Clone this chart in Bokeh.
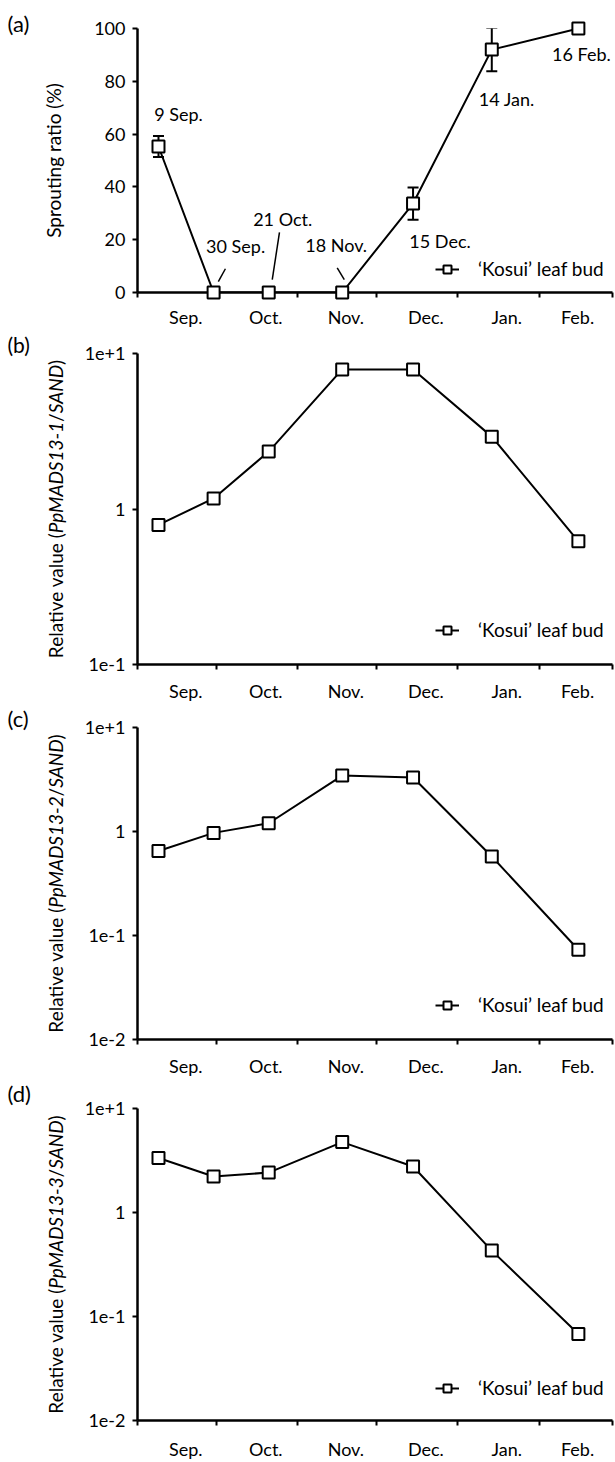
import math
import subprocess
import datetime as dt
from bokeh.plotting import figure
from bokeh.models import (Range1d, FixedTicker, ColumnDataSource, Whisker,
                          TeeHead, Legend, LegendItem)
from bokeh.layouts import column
from bokeh.embed import file_html
from bokeh.resources import INLINE
from bokeh.core.properties import value

# ---------------- data ----------------
dates = ["2009-09-09", "2009-09-30", "2009-10-21", "2009-11-18",
         "2009-12-15", "2010-01-14", "2010-02-16"]
date_labels = ["9 Sep.", "30 Sep.", "21 Oct.", "18 Nov.", "15 Dec.", "14 Jan.", "16 Feb."]
sprouting = [55.3, 0, 0, 0, 33.7, 92.0, 100.0]
sprouting_err = [4.0, 0, 0, 0, 6.1, 8.2, 0]
mads13_1 = [0.79, 1.17, 2.34, 7.9, 7.9, 2.92, 0.62]
mads13_2 = [0.65, 0.97, 1.20, 3.45, 3.30, 0.575, 0.073]
mads13_3 = [3.34, 2.22, 2.42, 4.75, 2.77, 0.43, 0.068]
months = ["Sep.", "Oct.", "Nov.", "Dec.", "Jan.", "Feb."]
genes = ["PpMADS13-1", "PpMADS13-2", "PpMADS13-3"]
reference_gene = "SAND"
legend_label = "\u2018Kosui\u2019 leaf bud"
ticks_a = [0, 20, 40, 60, 80, 100]
log_ticks = {10: "1e+1", 1: "1", 0.1: "1e-1", 0.01: "1e-2"}

# ---------------- styling / layout ----------------
FONT = "Lato"
FS = "18px"
YLAB_SIZE = 19
W = 615
LEFT = 137
RIGHT = 3
YLAB_X = -82          # centre of the y-axis title, px from the frame's left edge
month_shift = [3.4, 3.4, 3.4, 3.4, 3.2, 0.7]   # month label shift from month middle (days)
label_dx = [20, 22, 14, -6, 27, 15, 3]          # date-label offsets, px
label_dy = [-33, -47, -74, -48, 37, 49, 25]
# leader lines (point index, d_days0, y0, d_days1, y1) for 30 Sep, 21 Oct, 18 Nov
leaders = [(1, 1.8, 4.1, 4.5, 9.0), (2, 1.35, 4.9, 4.1, 22.8), (3, 0.8, 4.9, -1.9, 9.3)]

start = dt.date(2009, 9, 1)
xs = [(dt.date.fromisoformat(d) - start).days for d in dates]
month_starts = []
for i in range(7):
    yy = 2009 + (8 + i) // 12
    mm = (8 + i) % 12 + 1
    month_starts.append(dt.date(yy, mm, 1))
bounds = [(ms - start).days for ms in month_starts]
label_pos = [round((a + b) / 2 + s, 1) for a, b, s in zip(bounds[:-1], bounds[1:], month_shift)]


# ---------- text measuring (for mixed upright/italic axis titles) ----------
_font_cache = {}


def _font_file(pattern):
    try:
        out = subprocess.run(["fc-match", "-f", "%{file}", pattern],
                             capture_output=True, text=True, timeout=10).stdout.strip()
        if out and "lato" in out.lower():
            return out
    except Exception:
        pass
    return None


def measure(text, italic, size):
    key = (italic, size)
    try:
        from PIL import ImageFont
        if key not in _font_cache:
            path = _font_file("Lato:style=Italic" if italic else "Lato:style=Regular")
            _font_cache[key] = ImageFont.truetype(path, size) if path else None
        f = _font_cache[key]
        if f is not None:
            return f.getlength(text)
    except Exception:
        pass
    return len(text) * size * 0.53


def add_ylabel(p, pieces, yrange, log):
    widths = [measure(t, it, YLAB_SIZE) for t, it in pieces]
    total = sum(widths)
    ymid = math.sqrt(yrange[0] * yrange[1]) if log else (yrange[0] + yrange[1]) / 2
    offs, cum = [], 0.0
    for w in widths:
        offs.append(total / 2 - cum)
        cum += w
    n = len(pieces)
    src = ColumnDataSource(dict(x=[bounds[0]] * n, y=[ymid] * n,
                                t=[t for t, _ in pieces], dy=offs,
                                st=["italic" if it else "normal" for _, it in pieces]))
    r = p.text("x", "y", text="t", source=src, x_offset=YLAB_X, y_offset="dy",
               angle=math.pi / 2, text_font=value(FONT),
               text_font_size=f"{YLAB_SIZE}px", text_font_style="st",
               text_align="left", text_baseline="middle", text_color="black")
    r.level = "overlay"


def make_fig(height, top, bottom, yvals, log, yrange, yticks, yoverrides, ylabel,
             ylab_standoff, leg_y, panel, panel_dy, panel_fs, xlab_standoff):
    p = figure(width=W, height=height, x_range=Range1d(bounds[0], bounds[-1]),
               y_range=Range1d(*yrange), y_axis_type=("log" if log else "linear"),
               output_backend="svg", toolbar_location=None,
               min_border_left=LEFT, min_border_right=RIGHT,
               min_border_top=top, min_border_bottom=bottom)
    p.outline_line_color = None
    p.xgrid.grid_line_color = None
    p.ygrid.grid_line_color = None
    p.background_fill_color = "white"

    xa = p.xaxis[0]
    xa.ticker = FixedTicker(ticks=label_pos, minor_ticks=bounds)
    xa.major_label_overrides = {pos: mth for pos, mth in zip(label_pos, months)}
    xa.major_tick_line_color = None
    xa.major_tick_out = 5
    xa.major_tick_in = 0
    xa.minor_tick_line_color = "black"
    xa.minor_tick_line_width = 2
    xa.minor_tick_out = 5
    xa.minor_tick_in = 0
    xa.axis_line_width = 2.5
    xa.axis_line_color = "black"
    xa.major_label_standoff = xlab_standoff
    xa.major_label_text_font = FONT
    xa.major_label_text_font_size = FS
    xa.major_label_text_color = "black"

    ya = p.yaxis[0]
    ya.ticker = FixedTicker(ticks=yticks)
    if yoverrides:
        ya.major_label_overrides = yoverrides
    ya.major_tick_out = 5
    ya.major_tick_in = 0
    ya.minor_tick_line_color = None
    ya.axis_line_width = 2.5
    ya.major_tick_line_width = 2
    ya.axis_line_color = "black"
    ya.major_tick_line_color = "black"
    ya.major_label_standoff = 7
    ya.major_label_text_font = FONT
    ya.major_label_text_font_size = FS
    ya.major_label_text_color = "black"
    if isinstance(ylabel, str):
        ya.axis_label = ylabel
        ya.axis_label_text_font = FONT
        ya.axis_label_text_font_size = f"{YLAB_SIZE}px"
        ya.axis_label_text_font_style = "normal"
        ya.axis_label_text_color = "black"
        ya.axis_label_standoff = ylab_standoff
    else:
        add_ylabel(p, ylabel, yrange, log)

    src = ColumnDataSource(dict(x=xs, y=yvals))
    lr = p.line("x", "y", source=src, line_color="black", line_width=2)
    mr = p.scatter("x", "y", source=src, marker="square", size=12,
                   fill_color="white", line_color="black", line_width=2)
    mr.level = "overlay"

    leg = Legend(items=[LegendItem(label=legend_label, renderers=[lr, mr])],
                 location=(298, leg_y), margin=0, padding=0, spacing=0,
                 background_fill_alpha=0, border_line_alpha=0,
                 label_text_font=FONT, label_text_font_size="19px",
                 label_text_color="black", glyph_width=24, glyph_height=20,
                 label_standoff=19, label_height=20)
    p.add_layout(leg)

    ps = ColumnDataSource(dict(x=[bounds[0]], y=[yrange[1]], t=[panel]))
    pr = p.text("x", "y", text="t", source=ps, x_offset=-(LEFT - 7), y_offset=-panel_dy,
                text_font=value(FONT), text_font_size=panel_fs, text_color="black",
                text_align="left", text_baseline="middle")
    pr.level = "overlay"
    return p, src


def rel_label(gene):
    return [("Relative value (", False), (gene, True), ("/", False),
            (reference_gene, True), (")", False)]


# ---- (a) sprouting ratio ----
pa, src_a = make_fig(330, 28, 34, sprouting, False, (0, 100), ticks_a, None,
                     "Sprouting ratio (%)", 26, 12, "(a)", 5, "22px", 8)
err_idx = [i for i, e in enumerate(sprouting_err) if e > 0]
esrc = ColumnDataSource(dict(x=[xs[i] for i in err_idx],
                             upper=[sprouting[i] + sprouting_err[i] for i in err_idx],
                             lower=[sprouting[i] - sprouting_err[i] for i in err_idx]))
pa.add_layout(Whisker(base="x", upper="upper", lower="lower", source=esrc,
                      line_color="black", line_width=2,
                      upper_head=TeeHead(size=11, line_width=2, line_color="black"),
                      lower_head=TeeHead(size=11, line_width=2, line_color="black")))
tsrc = ColumnDataSource(dict(x=xs, y=sprouting, t=date_labels, dx=label_dx, dy=label_dy))
tr = pa.text("x", "y", text="t", source=tsrc, x_offset="dx", y_offset="dy",
             text_font=value(FONT), text_font_size=FS, text_color="black",
             text_align="center", text_baseline="middle")
tr.level = "overlay"
lsrc = ColumnDataSource(dict(
    x0=[xs[i] + a for i, a, b, c, d in leaders],
    y0=[sprouting[i] + b for i, a, b, c, d in leaders],
    x1=[xs[i] + c for i, a, b, c, d in leaders],
    y1=[sprouting[i] + d for i, a, b, c, d in leaders]))
pa.segment("x0", "y0", "x1", "y1", source=lsrc, line_color="black", line_width=1.5)

# ---- (b)-(d) relative expression ----
pb, _ = make_fig(374, 23, 37, mads13_1, True, (0.1, 10), [0.1, 1, 10], log_ticks,
                 rel_label(genes[0]), 15, 23, "(b)", 9, "21px", 10)
pc, _ = make_fig(375, 23, 37, mads13_2, True, (0.01, 10), [0.01, 0.1, 1, 10], log_ticks,
                 rel_label(genes[1]), 18, 23, "(c)", 9, "22px", 10)
pd_, _ = make_fig(383, 29, 41, mads13_3, True, (0.01, 10), [0.01, 0.1, 1, 10], log_ticks,
                  rel_label(genes[2]), 18, 21, "(d)", 15, "22px", 12)

layout = column(pa, pb, pc, pd_, spacing=0)
open("out.html", "w").write(file_html(layout, INLINE))
